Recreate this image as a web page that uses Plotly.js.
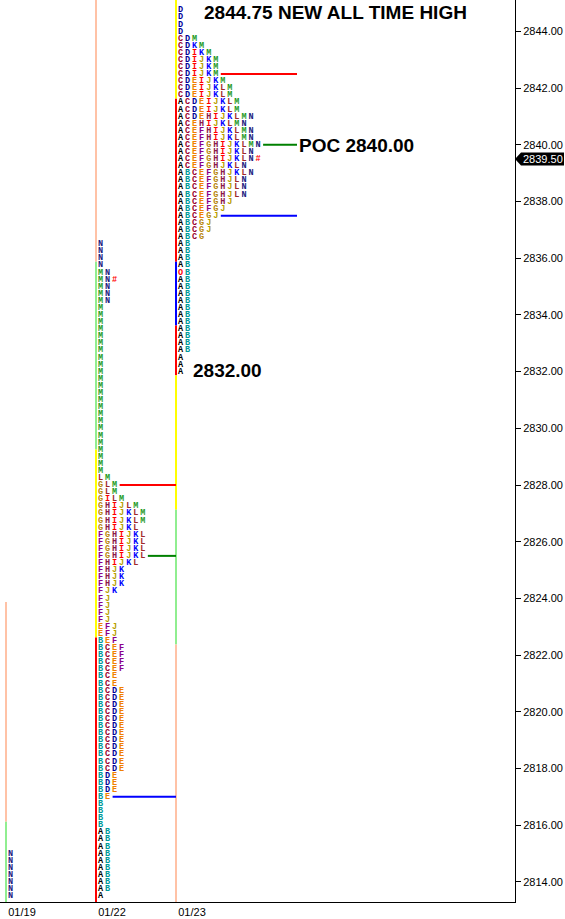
<!DOCTYPE html>
<html><head><meta charset="utf-8">
<script src="https://cdn.plot.ly/plotly-3.0.1.min.js"></script>
<style>html,body{margin:0;padding:0;background:#fff}#chart{width:565px;height:919px}</style>
</head><body><div id="chart"></div>
<script>
// ---------- data ----------
const sessions = ['01/19', '01/22', '01/23'];
const sessionX = [6, 96, 176];

const prices19 = [2815.00, 2814.75, 2814.50, 2814.25, 2814.00, 2813.75, 2813.50];
const rows19 = ['N', 'N', 'N', 'N', 'N', 'N', 'N'];

const prices22 = [
  2836.50, 2836.25, 2836.00, 2835.75, 2835.50, 2835.25, 2835.00, 2834.75, 2834.50, 2834.25,
  2834.00, 2833.75, 2833.50, 2833.25, 2833.00, 2832.75, 2832.50, 2832.25, 2832.00, 2831.75,
  2831.50, 2831.25, 2831.00, 2830.75, 2830.50, 2830.25, 2830.00, 2829.75, 2829.50, 2829.25,
  2829.00, 2828.75, 2828.50, 2828.25, 2828.00, 2827.75, 2827.50, 2827.25, 2827.00, 2826.75,
  2826.50, 2826.25, 2826.00, 2825.75, 2825.50, 2825.25, 2825.00, 2824.75, 2824.50, 2824.25,
  2824.00, 2823.75, 2823.50, 2823.25, 2823.00, 2822.75, 2822.50, 2822.25, 2822.00, 2821.75,
  2821.50, 2821.25, 2821.00, 2820.75, 2820.50, 2820.25, 2820.00, 2819.75, 2819.50, 2819.25,
  2819.00, 2818.75, 2818.50, 2818.25, 2818.00, 2817.75, 2817.50, 2817.25, 2817.00, 2816.75,
  2816.50, 2816.25, 2816.00, 2815.75, 2815.50, 2815.25, 2815.00, 2814.75, 2814.50, 2814.25,
  2814.00, 2813.75, 2813.50];
const rows22 = [
  'N', 'N', 'N', 'N', 'MN', 'MN', 'MN', 'MN', 'MN', 'M',
  'M', 'M', 'M', 'M', 'M', 'M', 'M', 'M', 'M', 'M',
  'M', 'M', 'M', 'M', 'M', 'M', 'M', 'M', 'M', 'M',
  'M', 'M', 'M', 'LM', 'GLM', 'GLM', 'GILM', 'GHIJLM', 'GHIJKLM', 'GHIJKLM',
  'GHIJKL', 'FGHIJKL', 'FGHIJKL', 'FGHIJKL', 'FGHIJKL', 'FHIJKL', 'FHJK', 'FHJK', 'FHJK', 'FJK',
  'FJ', 'FJ', 'FJ', 'FJ', 'EFJ', 'EFJ', 'BEF', 'BCEF', 'BCEF', 'BCEF',
  'BCEF', 'BCE', 'BCE', 'BCDE', 'BCDE', 'BCDE', 'BCDE', 'BCDE', 'BCDE', 'BCDE',
  'BCDE', 'BCDE', 'BCDE', 'BCDE', 'BCDE', 'BDE', 'BDE', 'BDE', 'BE', 'B',
  'B', 'B', 'B', 'AB', 'AB', 'AB', 'AB', 'AB', 'AB', 'AB',
  'AB', 'AB', 'A'];

const prices23 = [
  2844.75, 2844.50, 2844.25, 2844.00, 2843.75, 2843.50, 2843.25, 2843.00, 2842.75, 2842.50,
  2842.25, 2842.00, 2841.75, 2841.50, 2841.25, 2841.00, 2840.75, 2840.50, 2840.25, 2840.00,
  2839.75, 2839.50, 2839.25, 2839.00, 2838.75, 2838.50, 2838.25, 2838.00, 2837.75, 2837.50,
  2837.25, 2837.00, 2836.75, 2836.50, 2836.25, 2836.00, 2835.75, 2835.50, 2835.25, 2835.00,
  2834.75, 2834.50, 2834.25, 2834.00, 2833.75, 2833.50, 2833.25, 2833.00, 2832.75, 2832.50,
  2832.25, 2832.00];
const rows23 = [
  'D', 'D', 'D', 'D', 'CDM', 'CDKM', 'CDIKM', 'CDIJKM', 'CDIJKM', 'CDIJKM',
  'CDEIJKM', 'CDEIJKLM', 'CDEIJKLM', 'ACDEIJKLM', 'ACDEIJKLM', 'ACDEHIJKLMN', 'ACEHIJKLMN', 'ACEFHIJKLMN', 'ACEFHIJKLMN', 'ACEFGHIJKLMN',
  'ACEFGHIJKLN', 'ACEFGHIJKLN', 'ACEFGHJKLN', 'ABCEFGHJKLN', 'ABCEFGHJLN', 'ABCEFGHJLN', 'ABCEFGHJLN', 'ABCEFGHJ', 'ABCEFGJ', 'ABCEGJ',
  'ABCGJ', 'ABCGJ', 'ABCG', 'AB', 'AB', 'AB', 'AB', 'OB', 'AB', 'AB',
  'AB', 'AB', 'AB', 'AB', 'AB', 'AB', 'AB', 'AB', 'AB', 'A',
  'A', 'A'];

const closePrice = [null, 2835.25, 2839.50];
const vah = [null, 2828.00, 2842.50];
const poc = [null, 2825.50, 2840.00];
const val = [null, 2817.00, 2837.50];
const highPrice = 2844.75;
const lowPrice = 2832.00;
const lastPrice = 2839.50;

// range-bar segments on each session's left edge
const segSession = [0, 0, 1, 1, 1, 1, 2, 2, 2, 2, 2, 2, 2];
const segTop = [2823.875, 2816.125, null, 2835.875, 2829.25, 2822.625, null, 2841.625, 2835.875, 2833.625, 2831.875, 2827.125, 2822.375];
const segBottom = [2816.125, null, 2835.875, 2829.25, 2822.625, null, 2841.625, 2835.875, 2833.625, 2831.875, 2827.125, 2822.375, null];
const segColor = ['#FFC2A6', '#90EE90', '#FFC2A6', '#90EE90', '#FFFF00', '#FF0000', '#FFFF00', '#FF0000', '#0000FF', '#FF0000', '#FFFF00', '#90EE90', '#FFC2A6'];

const letterColors = {
  A: '#000000', B: '#009a9a', C: '#9a0030', D: '#00009a', E: '#F08000', F: '#8B008B',
  G: '#B8860B', H: '#8B1A4A', I: '#FF0000', J: '#B8A000', K: '#0000FF', L: '#A0282A',
  M: '#1E9A1E', N: '#202080', O: '#FF0000', '#': '#FF0000'
};

// ---------- layout constants ----------
const yRange = [2813.29, 2845.11];
const xRange = [0, 515];
const colW = 7.05, colOff = 4.5, lastLineEnd = 297;

const sessPrices = [prices19, prices22, prices23];
const sessRows = [rows19, rows22, rows23];

const pts = {};
function addPt(ch, x, y) {
  if (!pts[ch]) pts[ch] = {x: [], y: []};
  pts[ch].x.push(x); pts[ch].y.push(y);
}
sessRows.forEach((rows, s) => {
  rows.forEach((r, i) => {
    [...r].forEach((ch, c) => addPt(ch, sessionX[s] + colOff + c * colW, sessPrices[s][i]));
  });
  if (closePrice[s] !== null) {
    const i = sessPrices[s].indexOf(closePrice[s]);
    addPt('#', sessionX[s] + colOff + sessRows[s][i].length * colW, closePrice[s]);
  }
});

const traces = Object.keys(pts).map(ch => ({
  type: 'scatter', mode: 'text', x: pts[ch].x, y: pts[ch].y,
  text: pts[ch].x.map(() => ch), textposition: 'middle center',
  textfont: {family: 'Liberation Mono, DejaVu Sans Mono, monospace', size: 8.5, color: letterColors[ch], weight: 'bold'},
  hoverinfo: 'skip', showlegend: false, cliponaxis: false
}));

const shapes = [];
segSession.forEach((s, k) => {
  shapes.push({type: 'line', xref: 'x', yref: 'y', x0: sessionX[s], x1: sessionX[s],
    y0: segTop[k] === null ? yRange[1] : segTop[k], y1: segBottom[k] === null ? yRange[0] : segBottom[k],
    line: {color: segColor[k], width: 2}, layer: 'below'});
});
function vaLine(s, price, color) {
  if (price === null) return;
  const i = sessPrices[s].indexOf(price);
  const x0 = sessionX[s] + colOff + sessRows[s][i].length * colW - 2;
  const x1 = s < sessions.length - 1 ? sessionX[s + 1] : lastLineEnd;
  shapes.push({type: 'line', xref: 'x', yref: 'y', x0: x0, x1: x1, y0: price, y1: price,
    line: {color: color, width: 2}});
}
sessions.forEach((_, s) => { vaLine(s, vah[s], '#FF0000'); vaLine(s, poc[s], '#008000'); vaLine(s, val[s], '#0000FF'); });
// last price tag
shapes.push({type: 'path', xref: 'paper', yref: 'y', xsizemode: 'pixel', ysizemode: 'pixel',
  xanchor: 1, yanchor: lastPrice, path: 'M0,0L6,6.5L49,6.5L49,-6.5L6,-6.5Z',
  fillcolor: '#000000', line: {width: 0}});

const bigFont = {family: 'Liberation Sans, Arial, sans-serif', size: 19, color: '#000000'};
const annotations = [
  {xref: 'x', yref: 'y', x: 202, y: highPrice, xanchor: 'left', yanchor: 'middle', yshift: -2,
    text: '<b>' + highPrice.toFixed(2) + ' NEW ALL TIME HIGH</b>', showarrow: false, font: bigFont},
  {xref: 'x', yref: 'y', x: 297, y: poc[2], xanchor: 'left', yanchor: 'middle', yshift: -1,
    text: '<b>POC ' + poc[2].toFixed(2) + '</b>', showarrow: false, font: bigFont},
  {xref: 'x', yref: 'y', x: 191, y: lowPrice, xanchor: 'left', yanchor: 'middle', yshift: 1,
    text: '<b>' + lowPrice.toFixed(2) + '</b>', showarrow: false, font: bigFont},
  {xref: 'paper', yref: 'y', x: 1, y: lastPrice, xanchor: 'left', yanchor: 'middle', xshift: 6,
    text: lastPrice.toFixed(2), showarrow: false,
    font: {family: 'Liberation Sans, Arial, sans-serif', size: 11, color: '#ffffff'}}
];

const layout = {
  width: 565, height: 919,
  margin: {l: 0, r: 50, t: 0, b: 17, pad: 0},
  paper_bgcolor: '#ffffff', plot_bgcolor: '#ffffff',
  showlegend: false, hovermode: false,
  xaxis: {range: xRange, showgrid: false, zeroline: false, showline: true, linecolor: '#000000', linewidth: 1,
    ticks: '', tickvals: sessionX, ticktext: sessions, ticklabelshift: 16, ticklabelstandoff: 0,
    tickfont: {family: 'Liberation Sans, Arial, sans-serif', size: 11, color: '#000000'}, fixedrange: true},
  yaxis: {range: yRange, side: 'right', showgrid: false, zeroline: false, showline: true, linecolor: '#000000', linewidth: 1,
    ticks: 'outside', ticklen: 5, tickcolor: '#000000', tick0: 2814, dtick: 2, tickformat: '.2f',
    tickfont: {family: 'Liberation Sans, Arial, sans-serif', size: 11, color: '#000000'}, fixedrange: true},
  shapes: shapes, annotations: annotations
};

Plotly.newPlot('chart', traces, layout, {displayModeBar: false, staticPlot: true});
</script>
</body></html>
